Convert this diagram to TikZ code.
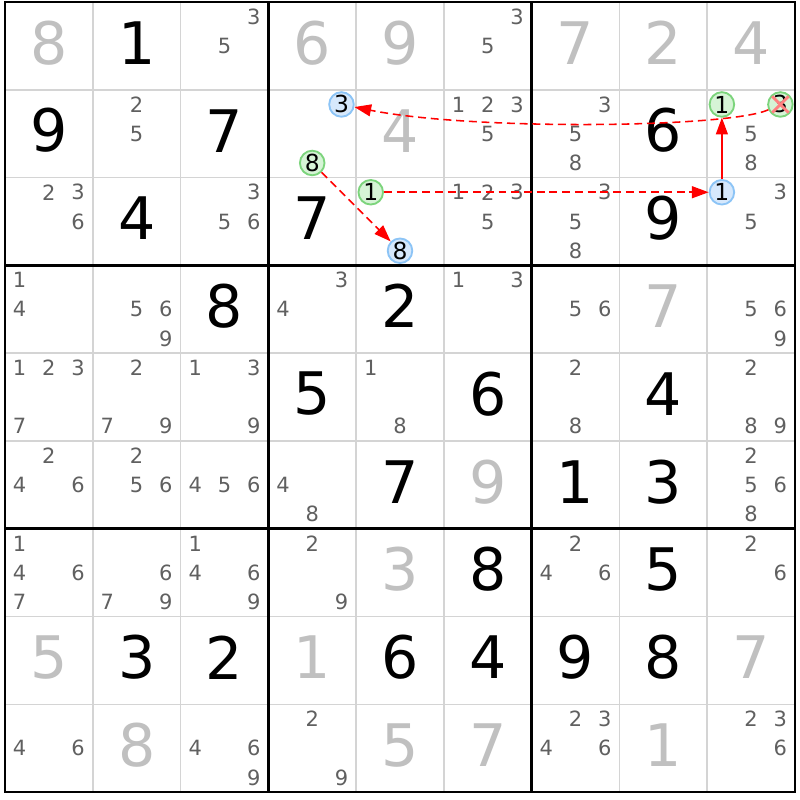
\documentclass[tikz,border=0pt]{standalone}
\usepackage{fontspec}
\setmainfont{DejaVu Sans}
\usetikzlibrary{arrows.meta}
\definecolor{givengray}{RGB}{192,192,192}
\definecolor{pencilgray}{RGB}{96,96,96}
\definecolor{gridgray}{RGB}{212,212,212}
\definecolor{bluefill}{RGB}{214,232,252}
\definecolor{bluering}{RGB}{140,196,246}
\definecolor{greenfill}{RGB}{214,244,214}
\definecolor{greenring}{RGB}{124,212,124}

\begin{document}
\begin{tikzpicture} [x = 0.3333cm, y = 0.3333cm,
  given/.style = {text = givengray, font = \fontsize{19}{23}\selectfont, inner sep = 0, yshift = 1pt},
  solved/.style = {text = black, font = \fontsize{19}{23}\selectfont, inner sep = 0, yshift = 1pt},
  pencil/.style = {text = pencilgray, font = \fontsize{6.8}{8}\selectfont, inner sep = 0},
  bluemark/.style = {circle, draw = bluering, fill = bluefill, line width = 0.6pt, minimum size = 2.8mm, inner sep = 0, font = \fontsize{7.6}{8}\selectfont},
  greenmark/.style = {circle, draw = greenring, fill = greenfill, line width = 0.6pt, minimum size = 2.8mm, inner sep = 0, font = \fontsize{7.6}{8}\selectfont},
  weaklink/.style = {draw = red, line width = 0.5pt, dash pattern = on 0.9mm off 0.55mm, -{Triangle[length = 1.9mm, width = 1.35mm]}},
  stronglink/.style = {draw = red, line width = 0.5pt, -{Triangle[length = 1.9mm, width = 1.35mm]}},
  crossout/.style = {draw = red!50, line width = 0.9pt}]
\useasboundingbox (-0.17, -27.27) rectangle (27.17, 0.07);
\fill[white] (-0.17, -27.27) rectangle (27.17, 0.07);
% thin lines
\draw[gridgray, line width = 0.5pt] (3.0, 0.0) -- (3.0, -27.0);
\draw[gridgray, line width = 0.5pt] (6.0, 0.0) -- (6.0, -27.0);
\draw[gridgray, line width = 0.5pt] (12.0, 0.0) -- (12.0, -27.0);
\draw[gridgray, line width = 0.5pt] (15.0, 0.0) -- (15.0, -27.0);
\draw[gridgray, line width = 0.5pt] (21.0, 0.0) -- (21.0, -27.0);
\draw[gridgray, line width = 0.5pt] (24.0, 0.0) -- (24.0, -27.0);
\draw[gridgray, line width = 0.5pt] (0.0, -3.0) -- (27.0, -3.0);
\draw[gridgray, line width = 0.5pt] (0.0, -6.0) -- (27.0, -6.0);
\draw[gridgray, line width = 0.5pt] (0.0, -12.0) -- (27.0, -12.0);
\draw[gridgray, line width = 0.5pt] (0.0, -15.0) -- (27.0, -15.0);
\draw[gridgray, line width = 0.5pt] (0.0, -21.0) -- (27.0, -21.0);
\draw[gridgray, line width = 0.5pt] (0.0, -24.0) -- (27.0, -24.0);
% box lines
\draw[line width = 0.9pt] (0.0, 0.0) rectangle (27.0, -27.0);
\draw[line width = 0.9pt] (9.0, 0.0) -- (9.0, -27.0);
\draw[line width = 0.9pt] (18.0, 0.0) -- (18.0, -27.0);
\draw[line width = 0.9pt] (0.0, -9.0) -- (27.0, -9.0);
\draw[line width = 0.9pt] (0.0, -18.0) -- (27.0, -18.0);
% big digits
\node[given] (r1c1) at (1.5, -1.5){8};
\node[solved] (r1c2) at (4.5, -1.5){1};
\node[given] (r1c4) at (10.5, -1.5){6};
\node[given] (r1c5) at (13.5, -1.5){9};
\node[given] (r1c7) at (19.5, -1.5){7};
\node[given] (r1c8) at (22.5, -1.5){2};
\node[given] (r1c9) at (25.5, -1.5){4};
\node[solved] (r2c1) at (1.5, -4.5){9};
\node[solved] (r2c3) at (7.5, -4.5){7};
\node[given] (r2c5) at (13.5, -4.5){4};
\node[solved] (r2c8) at (22.5, -4.5){6};
\node[solved] (r3c2) at (4.5, -7.5){4};
\node[solved] (r3c4) at (10.5, -7.5){7};
\node[solved] (r3c8) at (22.5, -7.5){9};
\node[solved] (r4c3) at (7.5, -10.5){8};
\node[solved] (r4c5) at (13.5, -10.5){2};
\node[given] (r4c8) at (22.5, -10.5){7};
\node[solved] (r5c4) at (10.5, -13.5){5};
\node[solved] (r5c6) at (16.5, -13.5){6};
\node[solved] (r5c8) at (22.5, -13.5){4};
\node[solved] (r6c5) at (13.5, -16.5){7};
\node[given] (r6c6) at (16.5, -16.5){9};
\node[solved] (r6c7) at (19.5, -16.5){1};
\node[solved] (r6c8) at (22.5, -16.5){3};
\node[given] (r7c5) at (13.5, -19.5){3};
\node[solved] (r7c6) at (16.5, -19.5){8};
\node[solved] (r7c8) at (22.5, -19.5){5};
\node[given] (r8c1) at (1.5, -22.5){5};
\node[solved] (r8c2) at (4.5, -22.5){3};
\node[solved] (r8c3) at (7.5, -22.5){2};
\node[given] (r8c4) at (10.5, -22.5){1};
\node[solved] (r8c5) at (13.5, -22.5){6};
\node[solved] (r8c6) at (16.5, -22.5){4};
\node[solved] (r8c7) at (19.5, -22.5){9};
\node[solved] (r8c8) at (22.5, -22.5){8};
\node[given] (r8c9) at (25.5, -22.5){7};
\node[given] (r9c2) at (4.5, -25.5){8};
\node[given] (r9c5) at (13.5, -25.5){5};
\node[given] (r9c6) at (16.5, -25.5){7};
\node[given] (r9c8) at (22.5, -25.5){1};
% candidates
\node[pencil] (r1c3-3) at (8.5, -0.5){3};
\node[pencil] (r1c3-5) at (7.5, -1.5){5};
\node[pencil] (r1c6-3) at (17.5, -0.5){3};
\node[pencil] (r1c6-5) at (16.5, -1.5){5};
\node[pencil] (r2c2-2) at (4.5, -3.5){2};
\node[pencil] (r2c2-5) at (4.5, -4.5){5};
\node[pencil] (r2c6-1) at (15.5, -3.5){1};
\node[pencil] (r2c6-2) at (16.5, -3.5){2};
\node[pencil] (r2c6-3) at (17.5, -3.5){3};
\node[pencil] (r2c6-5) at (16.5, -4.5){5};
\node[pencil] (r2c7-3) at (20.5, -3.5){3};
\node[pencil] (r2c7-5) at (19.5, -4.5){5};
\node[pencil] (r2c7-8) at (19.5, -5.5){8};
\node[pencil] (r2c9-5) at (25.5, -4.5){5};
\node[pencil] (r2c9-8) at (25.5, -5.5){8};
\node[pencil] (r3c1-2) at (1.5, -6.5){2};
\node[pencil] (r3c1-3) at (2.5, -6.5){3};
\node[pencil] (r3c1-6) at (2.5, -7.5){6};
\node[pencil] (r3c3-3) at (8.5, -6.5){3};
\node[pencil] (r3c3-5) at (7.5, -7.5){5};
\node[pencil] (r3c3-6) at (8.5, -7.5){6};
\node[pencil] (r3c6-1) at (15.5, -6.5){1};
\node[pencil] (r3c6-2) at (16.5, -6.5){2};
\node[pencil] (r3c6-3) at (17.5, -6.5){3};
\node[pencil] (r3c6-5) at (16.5, -7.5){5};
\node[pencil] (r3c7-3) at (20.5, -6.5){3};
\node[pencil] (r3c7-5) at (19.5, -7.5){5};
\node[pencil] (r3c7-8) at (19.5, -8.5){8};
\node[pencil] (r3c9-3) at (26.5, -6.5){3};
\node[pencil] (r3c9-5) at (25.5, -7.5){5};
\node[pencil] (r4c1-1) at (0.5, -9.5){1};
\node[pencil] (r4c1-4) at (0.5, -10.5){4};
\node[pencil] (r4c2-5) at (4.5, -10.5){5};
\node[pencil] (r4c2-6) at (5.5, -10.5){6};
\node[pencil] (r4c2-9) at (5.5, -11.5){9};
\node[pencil] (r4c4-3) at (11.5, -9.5){3};
\node[pencil] (r4c4-4) at (9.5, -10.5){4};
\node[pencil] (r4c6-1) at (15.5, -9.5){1};
\node[pencil] (r4c6-3) at (17.5, -9.5){3};
\node[pencil] (r4c7-5) at (19.5, -10.5){5};
\node[pencil] (r4c7-6) at (20.5, -10.5){6};
\node[pencil] (r4c9-5) at (25.5, -10.5){5};
\node[pencil] (r4c9-6) at (26.5, -10.5){6};
\node[pencil] (r4c9-9) at (26.5, -11.5){9};
\node[pencil] (r5c1-1) at (0.5, -12.5){1};
\node[pencil] (r5c1-2) at (1.5, -12.5){2};
\node[pencil] (r5c1-3) at (2.5, -12.5){3};
\node[pencil] (r5c1-7) at (0.5, -14.5){7};
\node[pencil] (r5c2-2) at (4.5, -12.5){2};
\node[pencil] (r5c2-7) at (3.5, -14.5){7};
\node[pencil] (r5c2-9) at (5.5, -14.5){9};
\node[pencil] (r5c3-1) at (6.5, -12.5){1};
\node[pencil] (r5c3-3) at (8.5, -12.5){3};
\node[pencil] (r5c3-9) at (8.5, -14.5){9};
\node[pencil] (r5c5-1) at (12.5, -12.5){1};
\node[pencil] (r5c5-8) at (13.5, -14.5){8};
\node[pencil] (r5c7-2) at (19.5, -12.5){2};
\node[pencil] (r5c7-8) at (19.5, -14.5){8};
\node[pencil] (r5c9-2) at (25.5, -12.5){2};
\node[pencil] (r5c9-8) at (25.5, -14.5){8};
\node[pencil] (r5c9-9) at (26.5, -14.5){9};
\node[pencil] (r6c1-2) at (1.5, -15.5){2};
\node[pencil] (r6c1-4) at (0.5, -16.5){4};
\node[pencil] (r6c1-6) at (2.5, -16.5){6};
\node[pencil] (r6c2-2) at (4.5, -15.5){2};
\node[pencil] (r6c2-5) at (4.5, -16.5){5};
\node[pencil] (r6c2-6) at (5.5, -16.5){6};
\node[pencil] (r6c3-4) at (6.5, -16.5){4};
\node[pencil] (r6c3-5) at (7.5, -16.5){5};
\node[pencil] (r6c3-6) at (8.5, -16.5){6};
\node[pencil] (r6c4-4) at (9.5, -16.5){4};
\node[pencil] (r6c4-8) at (10.5, -17.5){8};
\node[pencil] (r6c9-2) at (25.5, -15.5){2};
\node[pencil] (r6c9-5) at (25.5, -16.5){5};
\node[pencil] (r6c9-6) at (26.5, -16.5){6};
\node[pencil] (r6c9-8) at (25.5, -17.5){8};
\node[pencil] (r7c1-1) at (0.5, -18.5){1};
\node[pencil] (r7c1-4) at (0.5, -19.5){4};
\node[pencil] (r7c1-6) at (2.5, -19.5){6};
\node[pencil] (r7c1-7) at (0.5, -20.5){7};
\node[pencil] (r7c2-6) at (5.5, -19.5){6};
\node[pencil] (r7c2-7) at (3.5, -20.5){7};
\node[pencil] (r7c2-9) at (5.5, -20.5){9};
\node[pencil] (r7c3-1) at (6.5, -18.5){1};
\node[pencil] (r7c3-4) at (6.5, -19.5){4};
\node[pencil] (r7c3-6) at (8.5, -19.5){6};
\node[pencil] (r7c3-9) at (8.5, -20.5){9};
\node[pencil] (r7c4-2) at (10.5, -18.5){2};
\node[pencil] (r7c4-9) at (11.5, -20.5){9};
\node[pencil] (r7c7-2) at (19.5, -18.5){2};
\node[pencil] (r7c7-4) at (18.5, -19.5){4};
\node[pencil] (r7c7-6) at (20.5, -19.5){6};
\node[pencil] (r7c9-2) at (25.5, -18.5){2};
\node[pencil] (r7c9-6) at (26.5, -19.5){6};
\node[pencil] (r9c1-4) at (0.5, -25.5){4};
\node[pencil] (r9c1-6) at (2.5, -25.5){6};
\node[pencil] (r9c3-4) at (6.5, -25.5){4};
\node[pencil] (r9c3-6) at (8.5, -25.5){6};
\node[pencil] (r9c3-9) at (8.5, -26.5){9};
\node[pencil] (r9c4-2) at (10.5, -24.5){2};
\node[pencil] (r9c4-9) at (11.5, -26.5){9};
\node[pencil] (r9c7-2) at (19.5, -24.5){2};
\node[pencil] (r9c7-3) at (20.5, -24.5){3};
\node[pencil] (r9c7-4) at (18.5, -25.5){4};
\node[pencil] (r9c7-6) at (20.5, -25.5){6};
\node[pencil] (r9c9-2) at (25.5, -24.5){2};
\node[pencil] (r9c9-3) at (26.5, -24.5){3};
\node[pencil] (r9c9-6) at (26.5, -25.5){6};
% marked candidates
\node[bluemark] (r2c4-3) at (11.5, -3.5){3};
\node[greenmark] (r2c4-8) at (10.5, -5.5){8};
\node[greenmark] (r2c9-1) at (24.5, -3.5){1};
\node[greenmark] (r2c9-3) at (26.5, -3.5){3};
\node[greenmark] (r3c5-1) at (12.5, -6.5){1};
\node[bluemark] (r3c5-8) at (13.5, -8.5){8};
\node[bluemark] (r3c9-1) at (24.5, -6.5){1};
% links
\draw[weaklink] (r2c9-3) .. controls +(-1.8, -0.8) and +(4.5, -0.9) .. (r2c4-3);
\draw[weaklink] (r3c5-1) -- (r3c9-1);
\draw[stronglink] (r3c9-1) -- (r2c9-1);
\draw[weaklink] (r2c4-8) -- (r3c5-8);
\draw[crossout] ([shift = {(-0.28, 0.28)}]r2c9-3.center) -- ([shift = {(0.28, -0.28)}]r2c9-3.center);
\draw[crossout] ([shift = {(-0.28, -0.28)}]r2c9-3.center) -- ([shift = {(0.28, 0.28)}]r2c9-3.center);
\end{tikzpicture}
\end{document}
